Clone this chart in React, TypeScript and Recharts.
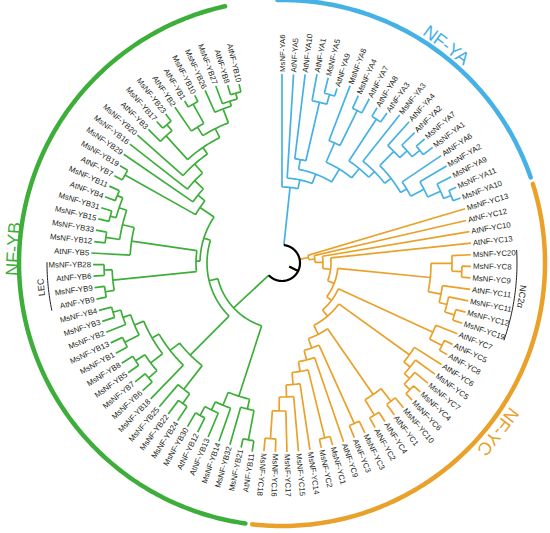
import React from 'react';
import { ComposedChart, Line, Scatter, XAxis, YAxis } from 'recharts';

// Trees in a Newick-like form: the number after each leaf or ")" is that node's
// distance from the centre of the circle (in px).
const yaL = '(MsNF-YA6:189,(AtNF-YA5:189,((AtNF-YA10:190,(AtNF-YA1:192,(MsNF-YA5:191,AtNF-YA9:183):175):165):105,((MsNF-YA8:190,(MsNF-YA4:184,AtNF-YA7:186):170):131,((AtNF-YA8:182,AtNF-YA3:183):172,(MsNF-YA3:189,((AtNF-YA4:190,(AtNF-YA2:186,(MsNF-YA7:189,MsNF-YA1:190):178):168):158,(AtNF-YA6:192,(MsNF-YA2:191,(MsNF-YA9:190,(MsNF-YA11:190,MsNF-YA10:190):182):174):160):145):138):130):122):110):95):85):76';

const ycNC2 = '((MsNF-YC20:189,(MsNF-YC8:189,MsNF-YC9:189):180):170,(AtNF-YC11:190,(MsNF-YC11:190,(MsNF-YC12:190,MsNF-YC19:190):180):170):162):149';
const ycC7 = '(AtNF-YC7:189,(AtNF-YC5:189,AtNF-YC8:189):180):166';
const ycC6 = '(AtNF-YC6:189,(MsNF-YC5:189,(MsNF-YC7:189,(MsNF-YC4:189,MsNF-YC6:189):180):172):165):157';
const ycC10 = '((MsNF-YC10:189,AtNF-YC1:189):176,(AtNF-YC4:189,AtNF-YC2:189):178):160';
const ycC3 = '(MsNF-YC3:189,AtNF-YC3:189):176';
const ycTree = `(MsNF-YC13:191,(AtNF-YC12:189,(AtNF-YC10:190,(AtNF-YC13:190,(${ycNC2},(${ycC7},(${ycC6},(${ycC10},(${ycC3},(AtNF-YC9:189,((MsNF-YC1:189,MsNF-YC2:189):180,(MsNF-YC14:189,(MsNF-YC15:189,(MsNF-YC17:189,(MsNF-YC16:189,MsNF-YC18:189):176):148):134):122):110):100):90):80):70):62):56):49):41):33):27`;

const ybL = '(((AtNF-YB11:191,MsNF-YB21:189):180,MsNF-YB32:189):150,(MsNF-YB14:189,(AtNF-YB13:189,(AtNF-YB12:189,MsNF-YB30:189):173):163):154):140';
const ybM = '(((MsNF-YB24:189,MsNF-YB22:189):172,MsNF-YB25:189):160,(MsNF-YB18:189,(((MsNF-YB6:189,MsNF-YB7:189):176,(MsNF-YB5:189,MsNF-YB8:189):176):165,((MsNF-YB1:189,MsNF-YB13:189):176,(MsNF-YB2:189,(MsNF-YB3:189,MsNF-YB4:189):176):168):160):150):142):130';
const ybLEC = '((AtNF-YB9:189,MsNF-YB9:189):179,(AtNF-YB6:189,MsNF-YB28:189):178):170';
const ybB5 = '(AtNF-YB5:191,((MsNF-YB12:189,MsNF-YB33:189):178,((MsNF-YB15:189,MsNF-YB31:189):178,(AtNF-YB4:189,MsNF-YB11:189):178):172):164):152';
const ybUp = '((AtNF-YB7:189,MsNF-YB19:189):180,(MsNF-YB29:192,(MsNF-YB16:193,(MsNF-YB20:193,((AtNF-YB3:189,(MsNF-YB17:189,MsNF-YB23:189):180):172,((AtNF-YB2:189,(AtNF-YB1:189,MsNF-YB10:189):182):160,(MsNF-YB26:189,(MsNF-YB27:189,(AtNF-YB8:186,AtNF-YB10:184):176):170):165):150):140):132):120):108):99';
const ybTree = `(${ybL},(${ybM},((${ybLEC},${ybB5}):86,${ybUp}):82):75):66`;

const clades = ['NF-YA', 'NF-YC', 'NF-YB'];
const cladeTrees = [yaL, ycTree, ybTree];
const cladeColors = ['#45B1E4', '#E9A12A', '#3DAE3A'];
const cladeLabelAngles = [-53, 38, 183];
const cladeLabelRadii = [273, 274, 269];

const bracketNames = ['LEC', 'NC2α'];
const bracketFirst = ['AtNF-YB9', 'MsNF-YC20'];
const bracketLast = ['MsNF-YB28', 'MsNF-YC19'];

// layout
const W = 550;
const H = 533;
const CX = 282;
const CY = 263;
const FIRST_ANGLE = -90;
const STEP = 3.5;
const ROOT_R = 18;
const ROOT_STEM_R = 8;
const RING_R = 263;
const BRACKET_R = 235;
const FONT = '"Liberation Sans", Arial, Helvetica, sans-serif';

type TNode = { name?: string; r: number; a: number; children?: TNode[] };

function parseTree(s: string): TNode {
  let i = 0;
  const num = () => {
    i++; // ':'
    let t = '';
    while (i < s.length && /[0-9.]/.test(s[i])) t += s[i++];
    return parseFloat(t);
  };
  const node = (): TNode => {
    if (s[i] === '(') {
      i++;
      const children = [node()];
      while (s[i] === ',') {
        i++;
        children.push(node());
      }
      i++; // ')'
      return { children, r: num(), a: 0 };
    }
    let name = '';
    while (s[i] !== ':') name += s[i++];
    return { name, r: num(), a: 0 };
  };
  return node();
}

const rad = (d: number) => (d * Math.PI) / 180;
const pt = (r: number, a: number) => ({ x: r * Math.cos(rad(a)), y: -r * Math.sin(rad(a)) });

type P = { x: number; y: number | null };

function arc(out: P[], r: number, a0: number, a1: number) {
  const n = Math.max(2, Math.ceil(Math.abs(a1 - a0) / 0.75) + 1);
  for (let k = 0; k < n; k++) out.push(pt(r, a0 + ((a1 - a0) * k) / (n - 1)));
  out.push({ x: out[out.length - 1].x, y: null });
}

function radial(out: P[], r0: number, r1: number, a: number) {
  out.push(pt(r0, a), pt(r1, a));
  out.push({ x: out[out.length - 1].x, y: null });
}

let leafIdx = 0;
const leaves: { name: string; r: number; a: number; clade: number }[] = [];
function place(n: TNode, clade: number) {
  if (!n.children) {
    n.a = FIRST_ANGLE + STEP * leafIdx++;
    leaves.push({ name: n.name!, r: n.r, a: n.a, clade });
    return;
  }
  n.children.forEach((c) => place(c, clade));
  n.a = (n.children[0].a + n.children[n.children.length - 1].a) / 2;
}

function edges(n: TNode, parentR: number, out: P[]) {
  radial(out, parentR, n.r, n.a);
  if (n.children) {
    arc(out, n.r, n.children[0].a, n.children[n.children.length - 1].a);
    n.children.forEach((c) => edges(c, n.r, out));
  }
}

const roots = cladeTrees.map((t, i) => {
  const n = parseTree(t);
  place(n, i);
  return n;
});

const treeLines = roots.map((n) => {
  const out: P[] = [];
  edges(n, ROOT_R, out);
  return out;
});

const rootAngles = roots.map((n) => n.a);
const rootA0 = Math.min(...rootAngles);
const rootA1 = Math.max(...rootAngles);
const blackLines: P[] = [];
arc(blackLines, ROOT_R, rootA0, rootA1);
radial(blackLines, ROOT_STEM_R, ROOT_R, (rootA0 + rootA1) / 2);

const ringLines = clades.map((_, i) => {
  const ls = leaves.filter((l) => l.clade === i);
  const out: P[] = [];
  arc(out, RING_R, ls[0].a - 1, ls[ls.length - 1].a + 1);
  return out;
});

const leafAngle = (name: string) => leaves.find((l) => l.name === name)!.a;
const bracketLines: P[] = [];
const bracketLabels = bracketNames.map((text, i) => {
  const a0 = leafAngle(bracketFirst[i]) - 0.7;
  const a1 = leafAngle(bracketLast[i]) + 0.7;
  arc(bracketLines, BRACKET_R, a0, a1);
  const mid = (a0 + a1) / 2;
  return { ...pt(BRACKET_R + 7, mid), angle: mid, text, color: '#231F20', size: 9 };
});

const cladeLabels = clades.map((text, i) => ({
  ...pt(cladeLabelRadii[i], cladeLabelAngles[i]),
  angle: cladeLabelAngles[i],
  text,
  color: cladeColors[i],
  size: 18,
}));

const leafLabels = leaves.map((l) => ({ ...pt(l.r + 2, l.a), angle: l.a, name: l.name }));

function LeafLabel(props: any) {
  const { cx, cy, payload } = props;
  const a = payload.angle;
  const flip = a > 97 && a < 269;
  const rot = flip ? a + 180 : a;
  return (
    <text
      x={cx}
      y={cy}
      transform={`rotate(${rot} ${cx} ${cy})`}
      textAnchor={flip ? 'end' : 'start'}
      dominantBaseline="central"
      fontSize={7.8}
      fontFamily={FONT}
      fill="#231F20"
    >
      {payload.name}
    </text>
  );
}

function ArcLabel(props: any) {
  const { cx, cy, payload } = props;
  return (
    <text
      x={cx}
      y={cy}
      transform={`rotate(${payload.angle + 90} ${cx} ${cy})`}
      textAnchor="middle"
      dominantBaseline="central"
      fontSize={payload.size}
      fontFamily={FONT}
      fill={payload.color}
    >
      {payload.text}
    </text>
  );
}

export default function App() {
  return (
    <div style={{ position: 'absolute', left: 0, top: 0, background: '#fff' }}>
      <ComposedChart width={W} height={H} margin={{ top: 0, right: 0, bottom: 0, left: 0 }}>
        <XAxis type="number" dataKey="x" domain={[-CX, W - CX]} hide allowDataOverflow />
        <YAxis type="number" dataKey="y" domain={[-(H - CY), CY]} hide allowDataOverflow />
        {ringLines.map((d, i) => (
          <Line
            key={`ring-${i}`}
            data={d}
            dataKey="y"
            type="linear"
            stroke={cladeColors[i]}
            strokeWidth={4.5}
            strokeLinecap="round"
            dot={false}
            activeDot={false}
            isAnimationActive={false}
          />
        ))}
        {treeLines.map((d, i) => (
          <Line
            key={`tree-${i}`}
            data={d}
            dataKey="y"
            type="linear"
            stroke={cladeColors[i]}
            strokeWidth={1.7}
            dot={false}
            activeDot={false}
            isAnimationActive={false}
          />
        ))}
        <Line data={blackLines} dataKey="y" type="linear" stroke="#000" strokeWidth={2.2} dot={false} activeDot={false} isAnimationActive={false} />
        <Line data={bracketLines} dataKey="y" type="linear" stroke="#231F20" strokeWidth={1} dot={false} activeDot={false} isAnimationActive={false} />
        <Scatter data={leafLabels} shape={LeafLabel} isAnimationActive={false} />
        <Scatter data={cladeLabels} shape={ArcLabel} isAnimationActive={false} />
        <Scatter data={bracketLabels} shape={ArcLabel} isAnimationActive={false} />
      </ComposedChart>
    </div>
  );
}
